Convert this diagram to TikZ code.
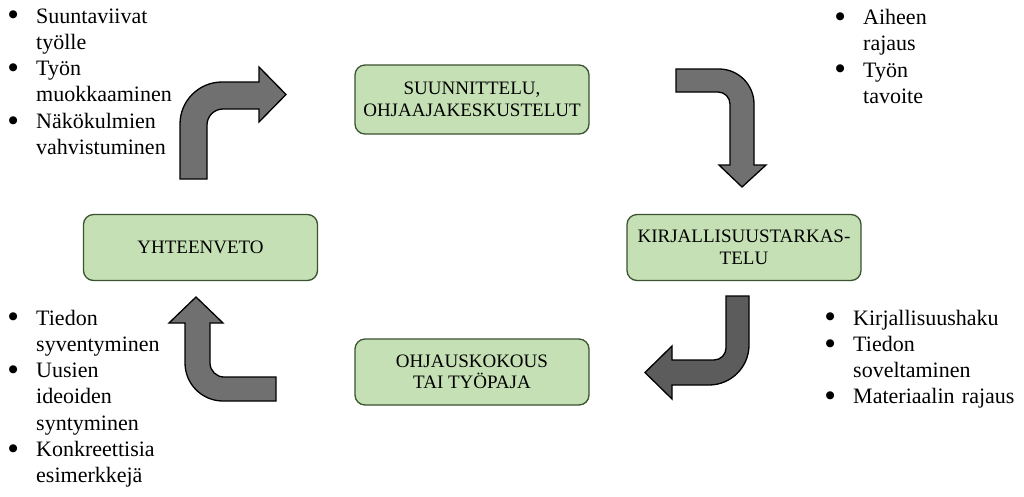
\documentclass[tikz,border=0pt]{standalone}
\usepackage{fontspec}
\setmainfont{Liberation Serif}
\newfontfamily\symfont{DejaVu Sans}
\definecolor{boxfill}{HTML}{C5E0B4}
\definecolor{boxline}{HTML}{3A5230}
\definecolor{arrA}{HTML}{707070}
\definecolor{arrB}{HTML}{5C5C5C}
\newcommand\lbul{\leavevmode\llap{\makebox[0pt]{\raisebox{7.5pt}[0pt][0pt]{\makebox[0pt]{\raisebox{-0.35\height}{\symfont\fontsize{10.5}{10.5}\selectfont ●}}}}\hspace{23pt}}}
\begin{document}
\begin{tikzpicture}[x=1pt,y=-1pt,
  stage/.style={draw=boxline, line width=1.3pt, fill=boxfill, rounded corners=10pt,
    minimum width=234pt, minimum height=66pt, align=center, inner sep=0pt,
    font=\fontsize{19}{21.5}\selectfont},
  blockarrow/.style={draw=black, line width=1.3pt},
  list/.style={anchor=base west, inner sep=0pt, align=left,
    font=\fontsize{22}{26.3}\selectfont}]
\useasboundingbox (0,0) rectangle (1024,496);

% stages
\node[stage, minimum height=69pt] (plan) at (472,99.5) {SUUNNITTELU,\\OHJAAJAKESKUSTELUT};
\node[stage] (lit) at (744,247.5) {KIRJALLISUUSTARKAS-\\TELU};
\node[stage] (meet) at (472,372) {OHJAUSKOKOUS\\TAI TYÖPAJA};
\node[stage] (sum) at (200.5,247.5) {YHTEENVETO};

% block arrows
% top-left: up then right
\filldraw[blockarrow, fill=arrA] (180,179) -- (180,124) arc[start angle=180,end angle=270,radius=42]
  -- (259,82) -- (259,67) -- (286,94.5) -- (259,122) -- (259,109) -- (223,109)
  arc[start angle=270,end angle=180,radius=16] -- (207,179) -- cycle;
% top-right: right then down
\filldraw[blockarrow, fill=arrA] (676,69) -- (719,69) arc[start angle=270,end angle=360,radius=35]
  -- (754,165) -- (766,165) -- (742,187) -- (719,165) -- (730,165) -- (730,104)
  arc[start angle=0,end angle=-90,radius=12] -- (676,92) -- cycle;
% bottom-right: down then left
\filldraw[blockarrow, fill=arrB] (726,296) -- (749,296) -- (749,345)
  arc[start angle=0,end angle=90,radius=40] -- (672,385) -- (672,399) -- (645,372.5)
  -- (672,346) -- (672,360) -- (714,360) arc[start angle=90,end angle=0,radius=12] -- cycle;
% bottom-left: left then up
\filldraw[blockarrow, fill=arrA] (276,377) -- (276,401) -- (223,401)
  arc[start angle=90,end angle=180,radius=38] -- (185,323) -- (169,323) -- (196,297)
  -- (223,323) -- (210,323) -- (210,363) arc[start angle=180,end angle=90,radius=14] -- cycle;

% lists
\node[list, text width=150pt] (l1) at (36,23) {\lbul Suuntaviivat\\työlle\\\lbul Työn\\muokkaaminen\\\lbul Näkökulmien\\vahvistuminen};
\node[list, text width=150pt] (l2) at (863,24.5) {\lbul Aiheen\\rajaus\\\lbul Työn\\tavoite};
\node[list, text width=168pt] (l3) at (853,325) {\lbul Kirjallisuushaku\\\lbul Tiedon\\soveltaminen\\\lbul Materiaalin rajaus};
\node[list, text width=150pt] (l4) at (36,325) {\lbul Tiedon\\syventyminen\\\lbul Uusien\\ideoiden\\syntyminen\\\lbul Konkreettisia\\esimerkkejä};
\end{tikzpicture}
\end{document}
